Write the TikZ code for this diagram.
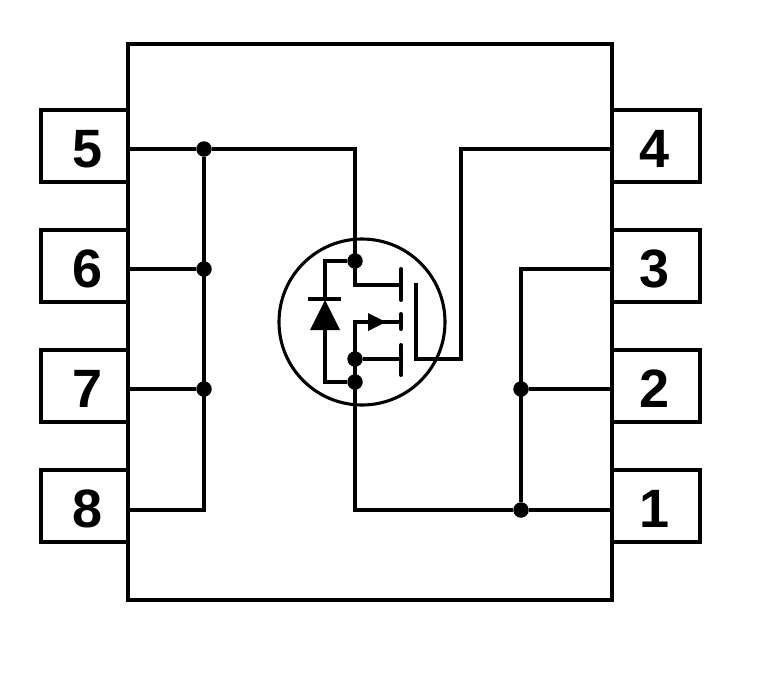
\documentclass[tikz,border=0pt]{standalone}
\usepackage{fontspec}
\setmainfont{Liberation Sans}
\tikzset{
  pinbox/.style={draw,line width=4pt,minimum height=72pt,inner sep=0pt,font=\fontsize{54}{54}\selectfont\bfseries},
  wire/.style={line width=3.1pt},
  jdot/.style={circle,fill,inner sep=0pt,minimum size=15.5pt},
  bar/.style={line width=4pt,line cap=round}
}
\begin{document}
\begin{tikzpicture}[x=1pt,y=-1pt]
  \useasboundingbox (0,0) rectangle (777,678);
  % pins
  \foreach \n/\y in {5/146,6/266,7/386,8/506}
    \node[pinbox,minimum width=94pt] (pin\n) at (88,\y) {\raisebox{-21pt}[0pt][0pt]{\n}};
  \foreach \n/\y in {4/146,3/266,2/386,1/506}
    \node[pinbox,minimum width=90pt] (pin\n) at (655,\y) {\raisebox{-21pt}[0pt][0pt]{\n}};
  % body
  \draw[line width=4pt] (128,44) rectangle (612,600);
  \fill[white] (130,46) rectangle (610,598);
  % pin ends and corners
  \foreach \n/\y in {5/149,6/269,7/389,8/510}
    \coordinate (l\n) at (128,\y);
  \foreach \n/\y in {4/149,3/269,2/389,1/510}
    \coordinate (r\n) at (612,\y);
  \coordinate (bl) at (204,510);
  \coordinate (tr) at (521,269);
  \coordinate (gt) at (416,283);
  \coordinate (gb) at (416,359);
  % junctions
  \node[jdot] (a5) at (204,149) {};
  \node[jdot] (a6) at (204,269) {};
  \node[jdot] (a7) at (204,389) {};
  \node[jdot] (b2) at (521,389) {};
  \node[jdot] (b1) at (521,510) {};
  \node[jdot] (d) at (355,261) {};
  \node[jdot] (s) at (355,359) {};
  \node[jdot] (k) at (355,382) {};
  % left and right
  \draw[wire] (l5) -- (a5) -| (d.center);
  \draw[wire] (l6) -- (a6);
  \draw[wire] (l7) -- (a7);
  \draw[wire] (l8) -- (bl) -- (a5);
  \draw[wire] (r4) -| (461,359) -- (gb) -- (gt);
  \draw[wire] (r3) -- (tr) -- (b1);
  \draw[wire] (r2) -- (b2);
  \draw[wire] (r1) -- (b1) -- (355,510) -- (k.center);
  % mosfet
  \draw[wire] (362,322) circle (83);
  \coordinate (g1) at (401,285);
  \coordinate (g2) at (401,322);
  \coordinate (g3) at (401,359);
  \draw[wire] (d.center) -- (355,285) -- (g1);
  \draw[wire] (g2) -- (355,322) -- (s.center) -- (k.center);
  \draw[wire] (s) -- (g3);
  \draw[bar] (401,269) -- (401,300);
  \draw[bar] (401,314) -- (401,329);
  \draw[bar] (401,345) -- (401,375);
  \fill (368,313) -- (386,322) -- (368,331) -- cycle;
  % diode
  \draw[wire] (d) -| (325,299);
  \draw[wire] (k) -| (325,329);
  \draw[wire] (308,299) -- (341,299);
  \fill (325,300) -- (340,330) -- (310,330) -- cycle;
\end{tikzpicture}
\end{document}
